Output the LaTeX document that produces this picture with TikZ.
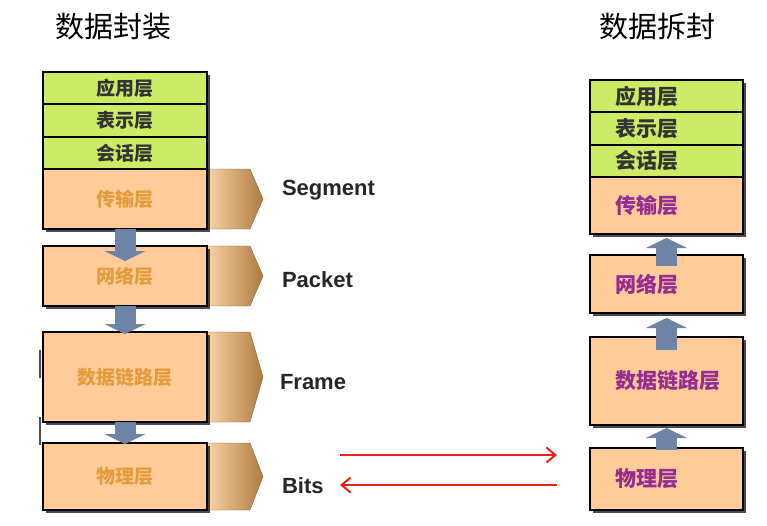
\documentclass[tikz,border=0pt]{standalone}
\usepackage{fontspec}
\setmainfont{Liberation Sans}
\newfontfamily\cjk{Noto Sans CJK SC}
\usetikzlibrary{positioning,calc,shadows,arrows.meta,backgrounds}

\definecolor{layergreen}{RGB}{204,236,102}
\definecolor{layerorange}{RGB}{255,204,153}
\definecolor{tablight}{RGB}{248,212,164}
\definecolor{tabdark}{RGB}{176,122,66}
\definecolor{pipeblue}{RGB}{110,132,166}
\definecolor{textgold}{RGB}{226,156,60}
\definecolor{textpurple}{RGB}{150,44,146}
\definecolor{wirered}{RGB}{238,34,20}

\begin{document}
\begin{tikzpicture}[x=1pt,y=-1pt,
  every node/.style={inner sep=0pt, outer sep=0pt},
  layer/.style={draw=black, line width=1.6pt,
    drop shadow={shadow xshift=2.5pt, shadow yshift=-2.5pt, fill=black, opacity=0.7}},
  sendlayer/.style={layer, minimum width=164pt, font=\fontsize{19}{19}\selectfont\cjk\bfseries},
  recvlayer/.style={layer, minimum width=153pt, text width=103pt, align=left,
    font=\fontsize{21}{21}\selectfont\cjk\bfseries},
  head/.style={fill=layergreen, text=black!80},
  body/.style={fill=layerorange},
  tab/.style={left color=tablight, right color=tabdark, draw=tabdark!80!black, line width=0.4pt},
  pipe/.style={pipeblue, line width=21pt, -{Triangle[width=41pt,length=10pt]}},
  wire/.style={wirered, line width=2pt, -{Straight Barb[length=9pt,width=15pt]}},
  unit/.style={anchor=base west, font=\fontsize{22}{22}\selectfont\bfseries, text=black!85},
  title/.style={font=\fontsize{29}{29}\selectfont\cjk}
  ]
  \useasboundingbox (0,0) rectangle (767,525);

  \node[title] (enctitle) at (113,27) {数据封装};
  \node[title] (dectitle) at (657,27) {数据拆封};

  \node[sendlayer, head, minimum height=32pt] (app) at (125,88) {应用层};
  \node[sendlayer, head, minimum height=33pt, below=0pt of app] (pres) {表示层};
  \node[sendlayer, head, minimum height=32pt, below=0pt of pres] (sess) {会话层};
  \node[sendlayer, body, text=textgold, minimum height=60pt, below=0pt of sess] (trans) {传输层};
  \node[sendlayer, body, text=textgold, minimum height=60pt, below=17pt of trans] (net) {网络层};
  \node[sendlayer, body, text=textgold, minimum height=90pt, below=26pt of net] (dl) {数据链路层};
  \node[sendlayer, body, text=textgold, minimum height=67pt, below=21pt of dl] (phy) {物理层};

  \begin{scope}[on background layer]
    \foreach \n in {trans,net,dl,phy}
      \draw[tab] (\n.north east) -- ++(43,0) -- ($(\n.east)+(56,0)$)
        -- ($(\n.south east)+(43,0)$) -- (\n.south east) -- cycle;
  \end{scope}

  \node[unit] (segment) at (282,195) {Segment};
  \node[unit] (packet) at (282,287) {Packet};
  \node[unit] (frame) at (280,389) {Frame};
  \node[unit] (bits) at (282,493) {Bits};

  \draw[pipe] (trans.south) -- ($(net.north)+(0,15)$);
  \draw[pipe] (net.south) -- ($(dl.north)+(0,2)$);
  \draw[pipe] (dl.south) -- ($(phy.north)+(0,1)$);

  \draw[black!70, line width=1.2pt] (40,350) -- (40,378) (40,417) -- (40,445);

  \node[recvlayer, head, minimum height=32pt] (rapp) at (666.5,96) {应用层};
  \node[recvlayer, head, minimum height=33pt, below=0pt of rapp] (rpres) {表示层};
  \node[recvlayer, head, minimum height=32pt, below=0pt of rpres] (rsess) {会话层};
  \node[recvlayer, body, text=textpurple, minimum height=57pt, below=0pt of rsess] (rtrans) {传输层};
  \node[recvlayer, body, text=textpurple, minimum height=58pt, below=21pt of rtrans] (rnet) {网络层};
  \node[recvlayer, body, text=textpurple, minimum height=88pt, below=24pt of rnet] (rdl) {数据链路层};
  \node[recvlayer, body, text=textpurple, minimum height=62pt, below=23pt of rdl] (rphy) {物理层};

  \draw[pipe] ($(rnet.north)+(0,11)$) -- ($(rtrans.south)+(0,4)$);
  \draw[pipe] ($(rdl.north)+(0,13)$) -- ($(rnet.south)+(0,5)$);
  \draw[pipe] ($(rphy.north)+(0,2)$) -- ($(rdl.south)+(0,3)$);

  \coordinate (sendfrom) at (340,455);
  \coordinate (sendto) at (557,455);
  \coordinate (backfrom) at (557,485);
  \coordinate (backto) at (340,485);
  \draw[wire] (sendfrom) -- (sendto);
  \draw[wire] (backfrom) -- (backto);
\end{tikzpicture}
\end{document}
